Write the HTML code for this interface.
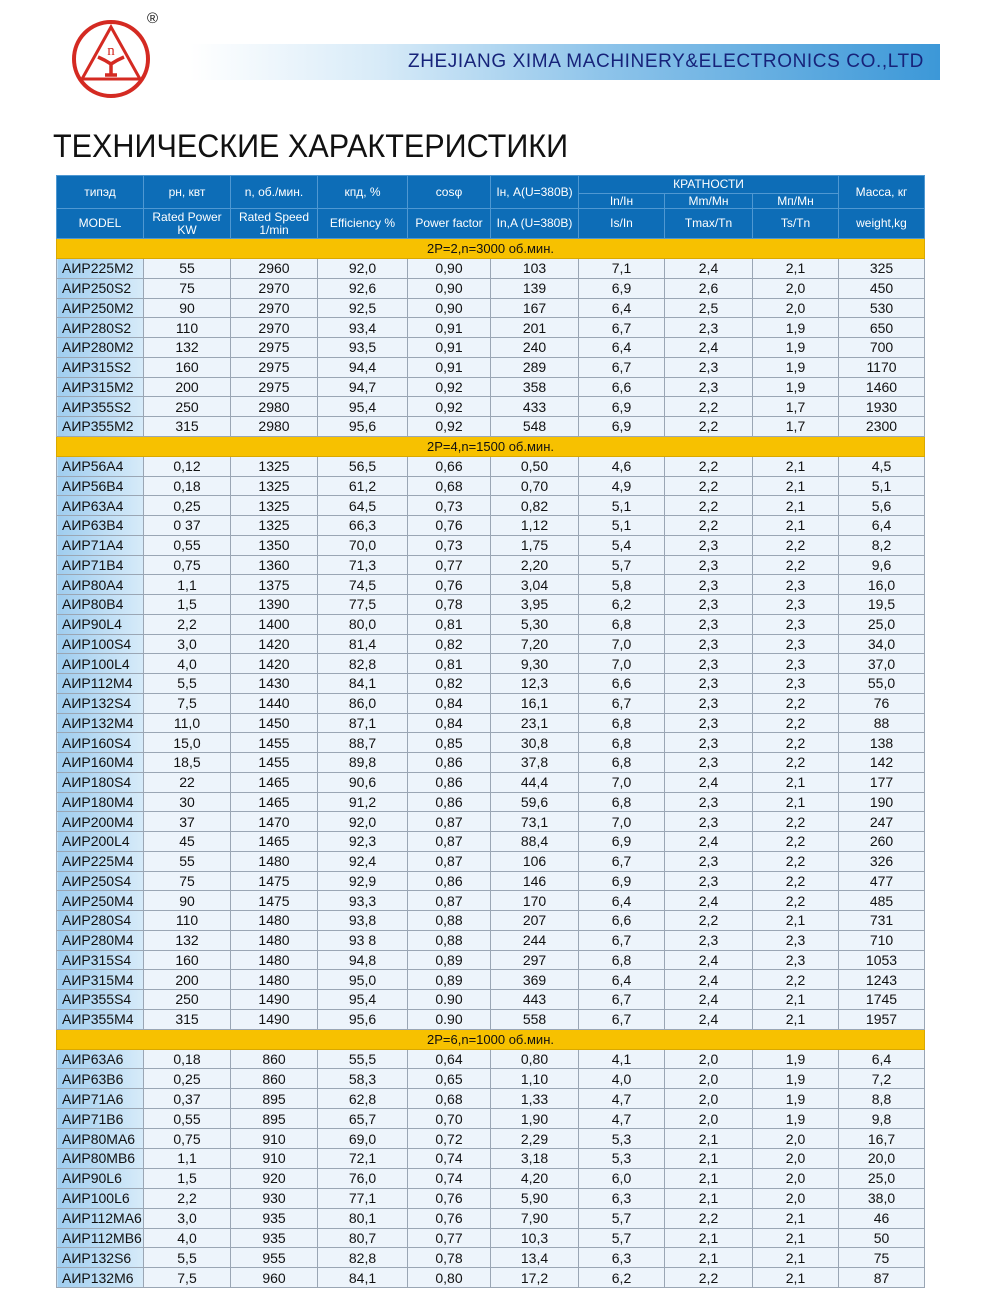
<!DOCTYPE html>
<html><head><meta charset="utf-8">
<style>
body{margin:0;background:#fff;width:990px;height:1304px;position:relative;overflow:hidden;font-family:"Liberation Sans",Arial,sans-serif;}
.banner{position:absolute;left:190px;top:44px;width:750px;height:36px;background:linear-gradient(90deg,#ffffff 0%,#d8ebf8 25%,#8ec4ea 55%,#3c98d8 100%);}
.banner span{position:absolute;right:16px;top:7px;font-size:19px;color:#17237a;letter-spacing:0.6px;white-space:nowrap;}
.reg{position:absolute;left:147px;top:10px;font-size:15px;color:#111;}
h1{position:absolute;left:53px;top:128px;margin:0;font-weight:normal;font-size:32px;color:#111;white-space:nowrap;transform-origin:left top;transform:scaleX(0.955);}
table{position:absolute;left:56px;top:175px;width:868px;border-collapse:collapse;table-layout:fixed;}
td{padding:0;text-align:center;font-size:14px;color:#111;border:1px solid #9aa6b4;white-space:nowrap;overflow:hidden;line-height:1;}
tr.h td{background:#0d6db7;color:#fff;font-size:12px;border-color:#4f98d2;line-height:1.05;}
tr.s td{background:#f7c100;border-color:#d9a800;font-size:13px;height:19px;}
tr.d td{height:18.75px;background:#edf4fb;}
tr.e td{height:18.9px;background:#edf4fb;}
tr.d td:first-child,tr.e td:first-child{text-align:left;padding-left:5px;background:linear-gradient(90deg,#9fcdef,#d7ebf9);}
</style></head><body>
<svg style="position:absolute;left:70px;top:18px" width="82" height="82" viewBox="0 0 82 82">
<circle cx="41" cy="41" r="37" fill="none" stroke="#d42a22" stroke-width="4"/>
<polygon points="41,9 70,61 12,61" fill="none" stroke="#d42a22" stroke-width="3"/>
<text x="41" y="37" font-family="Liberation Serif,serif" font-size="15" fill="#d42a22" text-anchor="middle">n</text>
<path d="M28,39 Q35,42 41,46 Q47,42 54,39 M41,46 L41,57 M35,57 L47,57" fill="none" stroke="#d42a22" stroke-width="3.5"/>
</svg>
<div class="reg">®</div>
<div class="banner"><span>ZHEJIANG XIMA MACHINERY&amp;ELECTRONICS CO.,LTD</span></div>
<h1>ТЕХНИЧЕСКИЕ ХАРАКТЕРИСТИКИ</h1>
<table>
<colgroup><col style="width:87px"><col style="width:87px"><col style="width:87px"><col style="width:90px"><col style="width:83px"><col style="width:88px"><col style="width:86px"><col style="width:88px"><col style="width:86px"><col style="width:86px"></colgroup>
<tr class="h"><td rowspan="2" style="height:32px">типэд</td><td rowspan="2">рн, квт</td><td rowspan="2">n, об./мин.</td><td rowspan="2">кпд, %</td><td rowspan="2">cosφ</td><td rowspan="2">Iн, A(U=380B)</td><td colspan="3" style="height:17px">КРАТНОСТИ</td><td rowspan="2">Масса, кг</td></tr>
<tr class="h"><td style="height:14px">In/Iн</td><td>Mm/Mн</td><td>Mп/Mн</td></tr>
<tr class="h"><td style="height:29px">MODEL</td><td>Rated Power<br>KW</td><td>Rated Speed<br>1/min</td><td>Efficiency %</td><td>Power factor</td><td>In,A (U=380B)</td><td>Is/In</td><td>Tmax/Tn</td><td>Ts/Tn</td><td>weight,kg</td></tr>
<tr class="s"><td colspan="10">2P=2,n=3000 об.мин.</td></tr>
<tr class="d"><td>АИР225M2</td><td>55</td><td>2960</td><td>92,0</td><td>0,90</td><td>103</td><td>7,1</td><td>2,4</td><td>2,1</td><td>325</td></tr>
<tr class="d"><td>АИР250S2</td><td>75</td><td>2970</td><td>92,6</td><td>0,90</td><td>139</td><td>6,9</td><td>2,6</td><td>2,0</td><td>450</td></tr>
<tr class="d"><td>АИР250M2</td><td>90</td><td>2970</td><td>92,5</td><td>0,90</td><td>167</td><td>6,4</td><td>2,5</td><td>2,0</td><td>530</td></tr>
<tr class="d"><td>АИР280S2</td><td>110</td><td>2970</td><td>93,4</td><td>0,91</td><td>201</td><td>6,7</td><td>2,3</td><td>1,9</td><td>650</td></tr>
<tr class="d"><td>АИР280M2</td><td>132</td><td>2975</td><td>93,5</td><td>0,91</td><td>240</td><td>6,4</td><td>2,4</td><td>1,9</td><td>700</td></tr>
<tr class="d"><td>АИР315S2</td><td>160</td><td>2975</td><td>94,4</td><td>0,91</td><td>289</td><td>6,7</td><td>2,3</td><td>1,9</td><td>1170</td></tr>
<tr class="d"><td>АИР315M2</td><td>200</td><td>2975</td><td>94,7</td><td>0,92</td><td>358</td><td>6,6</td><td>2,3</td><td>1,9</td><td>1460</td></tr>
<tr class="d"><td>АИР355S2</td><td>250</td><td>2980</td><td>95,4</td><td>0,92</td><td>433</td><td>6,9</td><td>2,2</td><td>1,7</td><td>1930</td></tr>
<tr class="d"><td>АИР355M2</td><td>315</td><td>2980</td><td>95,6</td><td>0,92</td><td>548</td><td>6,9</td><td>2,2</td><td>1,7</td><td>2300</td></tr>
<tr class="s"><td colspan="10">2P=4,n=1500 об.мин.</td></tr>
<tr class="d"><td>АИР56A4</td><td>0,12</td><td>1325</td><td>56,5</td><td>0,66</td><td>0,50</td><td>4,6</td><td>2,2</td><td>2,1</td><td>4,5</td></tr>
<tr class="d"><td>АИР56B4</td><td>0,18</td><td>1325</td><td>61,2</td><td>0,68</td><td>0,70</td><td>4,9</td><td>2,2</td><td>2,1</td><td>5,1</td></tr>
<tr class="d"><td>АИР63A4</td><td>0,25</td><td>1325</td><td>64,5</td><td>0,73</td><td>0,82</td><td>5,1</td><td>2,2</td><td>2,1</td><td>5,6</td></tr>
<tr class="d"><td>АИР63B4</td><td>0 37</td><td>1325</td><td>66,3</td><td>0,76</td><td>1,12</td><td>5,1</td><td>2,2</td><td>2,1</td><td>6,4</td></tr>
<tr class="d"><td>АИР71A4</td><td>0,55</td><td>1350</td><td>70,0</td><td>0,73</td><td>1,75</td><td>5,4</td><td>2,3</td><td>2,2</td><td>8,2</td></tr>
<tr class="d"><td>АИР71B4</td><td>0,75</td><td>1360</td><td>71,3</td><td>0,77</td><td>2,20</td><td>5,7</td><td>2,3</td><td>2,2</td><td>9,6</td></tr>
<tr class="d"><td>АИР80A4</td><td>1,1</td><td>1375</td><td>74,5</td><td>0,76</td><td>3,04</td><td>5,8</td><td>2,3</td><td>2,3</td><td>16,0</td></tr>
<tr class="d"><td>АИР80B4</td><td>1,5</td><td>1390</td><td>77,5</td><td>0,78</td><td>3,95</td><td>6,2</td><td>2,3</td><td>2,3</td><td>19,5</td></tr>
<tr class="d"><td>АИР90L4</td><td>2,2</td><td>1400</td><td>80,0</td><td>0,81</td><td>5,30</td><td>6,8</td><td>2,3</td><td>2,3</td><td>25,0</td></tr>
<tr class="d"><td>АИР100S4</td><td>3,0</td><td>1420</td><td>81,4</td><td>0,82</td><td>7,20</td><td>7,0</td><td>2,3</td><td>2,3</td><td>34,0</td></tr>
<tr class="d"><td>АИР100L4</td><td>4,0</td><td>1420</td><td>82,8</td><td>0,81</td><td>9,30</td><td>7,0</td><td>2,3</td><td>2,3</td><td>37,0</td></tr>
<tr class="d"><td>АИР112M4</td><td>5,5</td><td>1430</td><td>84,1</td><td>0,82</td><td>12,3</td><td>6,6</td><td>2,3</td><td>2,3</td><td>55,0</td></tr>
<tr class="d"><td>АИР132S4</td><td>7,5</td><td>1440</td><td>86,0</td><td>0,84</td><td>16,1</td><td>6,7</td><td>2,3</td><td>2,2</td><td>76</td></tr>
<tr class="d"><td>АИР132M4</td><td>11,0</td><td>1450</td><td>87,1</td><td>0,84</td><td>23,1</td><td>6,8</td><td>2,3</td><td>2,2</td><td>88</td></tr>
<tr class="d"><td>АИР160S4</td><td>15,0</td><td>1455</td><td>88,7</td><td>0,85</td><td>30,8</td><td>6,8</td><td>2,3</td><td>2,2</td><td>138</td></tr>
<tr class="d"><td>АИР160M4</td><td>18,5</td><td>1455</td><td>89,8</td><td>0,86</td><td>37,8</td><td>6,8</td><td>2,3</td><td>2,2</td><td>142</td></tr>
<tr class="d"><td>АИР180S4</td><td>22</td><td>1465</td><td>90,6</td><td>0,86</td><td>44,4</td><td>7,0</td><td>2,4</td><td>2,1</td><td>177</td></tr>
<tr class="d"><td>АИР180M4</td><td>30</td><td>1465</td><td>91,2</td><td>0,86</td><td>59,6</td><td>6,8</td><td>2,3</td><td>2,1</td><td>190</td></tr>
<tr class="d"><td>АИР200M4</td><td>37</td><td>1470</td><td>92,0</td><td>0,87</td><td>73,1</td><td>7,0</td><td>2,3</td><td>2,2</td><td>247</td></tr>
<tr class="d"><td>АИР200L4</td><td>45</td><td>1465</td><td>92,3</td><td>0,87</td><td>88,4</td><td>6,9</td><td>2,4</td><td>2,2</td><td>260</td></tr>
<tr class="d"><td>АИР225M4</td><td>55</td><td>1480</td><td>92,4</td><td>0,87</td><td>106</td><td>6,7</td><td>2,3</td><td>2,2</td><td>326</td></tr>
<tr class="d"><td>АИР250S4</td><td>75</td><td>1475</td><td>92,9</td><td>0,86</td><td>146</td><td>6,9</td><td>2,3</td><td>2,2</td><td>477</td></tr>
<tr class="d"><td>АИР250M4</td><td>90</td><td>1475</td><td>93,3</td><td>0,87</td><td>170</td><td>6,4</td><td>2,4</td><td>2,2</td><td>485</td></tr>
<tr class="d"><td>АИР280S4</td><td>110</td><td>1480</td><td>93,8</td><td>0,88</td><td>207</td><td>6,6</td><td>2,2</td><td>2,1</td><td>731</td></tr>
<tr class="d"><td>АИР280M4</td><td>132</td><td>1480</td><td>93 8</td><td>0,88</td><td>244</td><td>6,7</td><td>2,3</td><td>2,3</td><td>710</td></tr>
<tr class="d"><td>АИР315S4</td><td>160</td><td>1480</td><td>94,8</td><td>0,89</td><td>297</td><td>6,8</td><td>2,4</td><td>2,3</td><td>1053</td></tr>
<tr class="d"><td>АИР315M4</td><td>200</td><td>1480</td><td>95,0</td><td>0,89</td><td>369</td><td>6,4</td><td>2,4</td><td>2,2</td><td>1243</td></tr>
<tr class="d"><td>АИР355S4</td><td>250</td><td>1490</td><td>95,4</td><td>0.90</td><td>443</td><td>6,7</td><td>2,4</td><td>2,1</td><td>1745</td></tr>
<tr class="d"><td>АИР355M4</td><td>315</td><td>1490</td><td>95,6</td><td>0.90</td><td>558</td><td>6,7</td><td>2,4</td><td>2,1</td><td>1957</td></tr>
<tr class="s"><td colspan="10">2P=6,n=1000 об.мин.</td></tr>
<tr class="e"><td>АИР63A6</td><td>0,18</td><td>860</td><td>55,5</td><td>0,64</td><td>0,80</td><td>4,1</td><td>2,0</td><td>1,9</td><td>6,4</td></tr>
<tr class="e"><td>АИР63B6</td><td>0,25</td><td>860</td><td>58,3</td><td>0,65</td><td>1,10</td><td>4,0</td><td>2,0</td><td>1,9</td><td>7,2</td></tr>
<tr class="e"><td>АИР71A6</td><td>0,37</td><td>895</td><td>62,8</td><td>0,68</td><td>1,33</td><td>4,7</td><td>2,0</td><td>1,9</td><td>8,8</td></tr>
<tr class="e"><td>АИР71B6</td><td>0,55</td><td>895</td><td>65,7</td><td>0,70</td><td>1,90</td><td>4,7</td><td>2,0</td><td>1,9</td><td>9,8</td></tr>
<tr class="e"><td>АИР80MA6</td><td>0,75</td><td>910</td><td>69,0</td><td>0,72</td><td>2,29</td><td>5,3</td><td>2,1</td><td>2,0</td><td>16,7</td></tr>
<tr class="e"><td>АИР80MB6</td><td>1,1</td><td>910</td><td>72,1</td><td>0,74</td><td>3,18</td><td>5,3</td><td>2,1</td><td>2,0</td><td>20,0</td></tr>
<tr class="e"><td>АИР90L6</td><td>1,5</td><td>920</td><td>76,0</td><td>0,74</td><td>4,20</td><td>6,0</td><td>2,1</td><td>2,0</td><td>25,0</td></tr>
<tr class="e"><td>АИР100L6</td><td>2,2</td><td>930</td><td>77,1</td><td>0,76</td><td>5,90</td><td>6,3</td><td>2,1</td><td>2,0</td><td>38,0</td></tr>
<tr class="e"><td>АИР112MA6</td><td>3,0</td><td>935</td><td>80,1</td><td>0,76</td><td>7,90</td><td>5,7</td><td>2,2</td><td>2,1</td><td>46</td></tr>
<tr class="e"><td>АИР112MB6</td><td>4,0</td><td>935</td><td>80,7</td><td>0,77</td><td>10,3</td><td>5,7</td><td>2,1</td><td>2,1</td><td>50</td></tr>
<tr class="e"><td>АИР132S6</td><td>5,5</td><td>955</td><td>82,8</td><td>0,78</td><td>13,4</td><td>6,3</td><td>2,1</td><td>2,1</td><td>75</td></tr>
<tr class="e"><td>АИР132M6</td><td>7,5</td><td>960</td><td>84,1</td><td>0,80</td><td>17,2</td><td>6,2</td><td>2,2</td><td>2,1</td><td>87</td></tr>
</table>
</body></html>
